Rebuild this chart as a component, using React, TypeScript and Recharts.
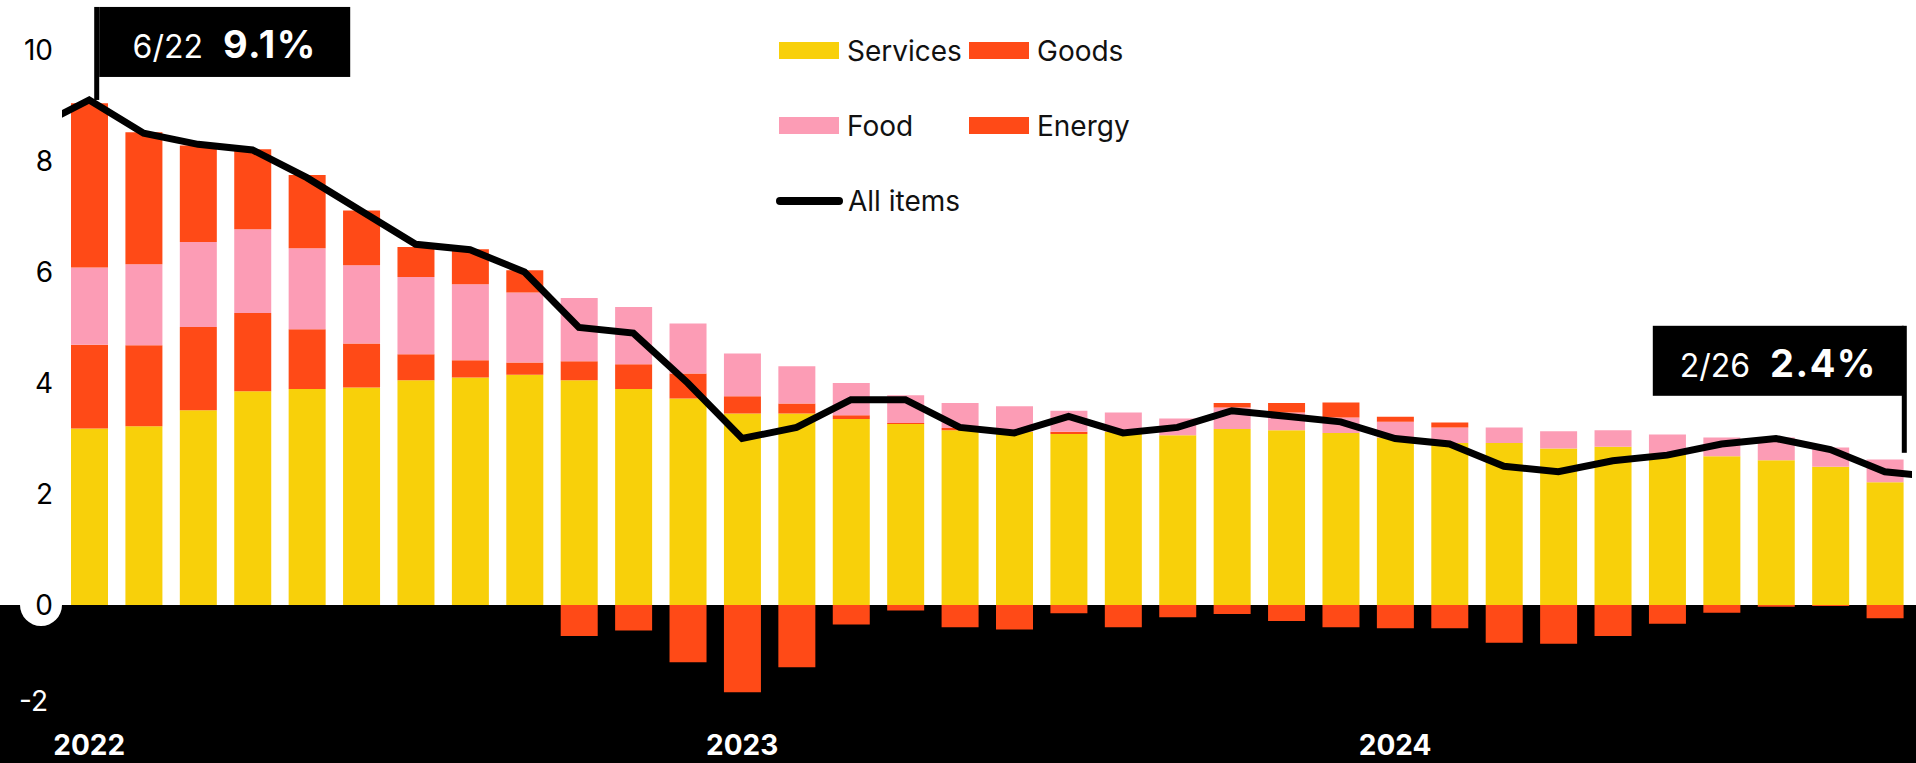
import React from 'react';
import { ComposedChart, Bar, Line, XAxis, YAxis, ReferenceArea, ReferenceDot } from 'recharts';

const W = 1916;
const H = 763;
const FONT = 'Inter, "Noto Sans", sans-serif';

// months of the all-items line; 5/22 and 4/25 only feed the clipped ends
const months = [
  '5/22', '6/22', '7/22', '8/22', '9/22', '10/22', '11/22', '12/22',
  '1/23', '2/23', '3/23', '4/23', '5/23', '6/23', '7/23', '8/23', '9/23', '10/23', '11/23', '12/23',
  '1/24', '2/24', '3/24', '4/24', '5/24', '6/24', '7/24', '8/24', '9/24', '10/24', '11/24', '12/24',
  '1/25', '2/25', '3/25', '4/25',
];

const allItems = [
  8.6, 9.1, 8.5, 8.3, 8.2, 7.7, 7.1, 6.5,
  6.4, 6.0, 5.0, 4.9, 4.0, 3.0, 3.2, 3.7, 3.7, 3.2, 3.1, 3.4,
  3.1, 3.2, 3.5, 3.4, 3.3, 3.0, 2.9, 2.5, 2.4, 2.6, 2.7, 2.9,
  3.0, 2.8, 2.4, 2.3,
];

// contributions (pp), one per bar: 6/22 .. 3/25
const services = [
  3.18, 3.22, 3.51, 3.85, 3.89, 3.92, 4.05, 4.10, 4.15, 4.05, 3.89, 3.72,
  3.45, 3.45, 3.35, 3.26, 3.15, 3.12, 3.08, 3.12, 3.06, 3.17, 3.15, 3.10,
  3.02, 2.92, 2.92, 2.82, 2.85, 2.73, 2.68, 2.61, 2.49, 2.21,
];
const goods = [
  1.51, 1.46, 1.50, 1.41, 1.08, 0.79, 0.47, 0.31, 0.22, 0.34, 0.45, 0.45,
  0.31, 0.18, 0.07, 0.02, 0.04, 0.0, 0.04, -0.40, -0.22, -0.16, -0.29, -0.40,
  -0.42, -0.42, -0.68, -0.70, -0.56, -0.34, -0.14, -0.03, -0.02, -0.24,
];
const food = [
  1.39, 1.46, 1.53, 1.51, 1.46, 1.41, 1.39, 1.37, 1.26, 1.14, 1.03, 0.90,
  0.77, 0.67, 0.58, 0.50, 0.45, 0.46, 0.38, 0.35, 0.30, 0.39, 0.32, 0.28,
  0.28, 0.28, 0.28, 0.31, 0.30, 0.34, 0.34, 0.41, 0.35, 0.41,
];
const energy = [
  2.96, 2.38, 1.74, 1.44, 1.32, 0.99, 0.54, 0.63, 0.40, -0.56, -0.46, -1.03,
  -1.57, -1.12, -0.35, -0.10, -0.40, -0.44, -0.15, 0.0, 0.0, 0.08, 0.17, 0.27,
  0.09, 0.09, 0.0, 0.0, 0.0, 0.0, 0.0, 0.0, 0.0, 0.0,
];

const yearTicks = [0, 12, 24];
const yearLabels = ['2022', '2023', '2024'];
const yTicks = [-2, 0, 2, 4, 6, 8, 10];

const flags = [
  { idx: 0, value: 9.1, date: '6/22', pct: '9.1%', side: 'left' },
  { idx: 33, value: 2.4, date: '2/26', pct: '2.4%', side: 'right' },
];

const COLORS = {
  services: '#F8D00A',
  goods: '#FF4A17',
  food: '#FC9CB5',
  energy: '#FF4A17',
};

const series = [
  { key: 'services', name: 'Services' },
  { key: 'goods', name: 'Goods' },
  { key: 'food', name: 'Food' },
  { key: 'energy', name: 'Energy' },
];

const data = months.map((month, k) => {
  const i = k - 1;
  const has = i >= 0 && i < services.length;
  return {
    idx: i,
    month,
    services: has ? services[i] : null,
    goods: has ? goods[i] : null,
    food: has ? food[i] : null,
    energy: has ? energy[i] : null,
    allItems: allItems[k],
  };
});

const ValueTick = (props: any) => {
  const { x, y, payload } = props;
  const v = payload.value;
  if (v === 0) {
    return (
      <g>
        <circle cx={x - 13} cy={y} r={21} fill="#fff" />
        <text x={x - 1} y={y} dy="0.36em" textAnchor="end" fontSize={28} fontFamily={FONT} fill="#000">0</text>
      </g>
    );
  }
  const neg = v < 0;
  return (
    <text x={neg ? x - 6 : x - 1} y={neg ? y - 15 : y} dy="0.36em" textAnchor="end" fontSize={28}
      fontFamily={FONT} fill={neg ? '#fff' : '#000'}>
      {v}
    </text>
  );
};

const YearTick = (props: any) => {
  const { x, y, payload } = props;
  const label = yearLabels[yearTicks.indexOf(payload.value)];
  return (
    <text x={x} y={y} dy={31} textAnchor="middle" fontSize={28} fontWeight={700} fontFamily={FONT} fill="#fff">
      {label}
    </text>
  );
};

const Flag = (props: any) => {
  const { cx, cy, date, pct, side } = props;
  const bw = 251;
  const bh = 70;
  let stickX, boxX, boxY, stickEnd;
  if (side === 'left') {
    stickX = cx + 5;
    boxX = cx + 10;
    boxY = cy - 93;
    stickEnd = cy;
  } else {
    stickX = cx + 17;
    boxX = cx + 19 - bw;
    boxY = cy - 146;
    stickEnd = cy - 19;
  }
  return (
    <g>
      <rect x={stickX} y={boxY} width={5} height={stickEnd - boxY} fill="#000" />
      <rect x={boxX} y={boxY} width={bw} height={bh} fill="#000" />
      <text x={boxX + bw / 2} y={boxY + 51} textAnchor="middle" fill="#fff" fontFamily={FONT}>
        <tspan fontSize={32}>{date}</tspan>
        <tspan dx={20} fontSize={38} fontWeight={700} letterSpacing={1.5}>{pct}</tspan>
      </text>
    </g>
  );
};

const LegendBlock = () => {
  const cell = (s: { key: string; name: string }) => (
    <div key={s.key} style={{ display: 'flex', alignItems: 'center', height: 75 }}>
      <div style={{ width: 60, height: 17, background: (COLORS as any)[s.key], marginRight: 8 }} />
      <span>{s.name}</span>
    </div>
  );
  return (
    <div style={{ position: 'absolute', left: 779, top: 13, fontFamily: FONT, fontSize: 28, color: '#111', lineHeight: 1 }}>
      <div style={{ display: 'grid', gridTemplateColumns: '190px 190px' }}>
        {series.map(cell)}
      </div>
      <div style={{ display: 'flex', alignItems: 'center', height: 75, marginLeft: -3 }}>
        <svg width={67} height={10} style={{ marginRight: 5 }}>
          <line x1={4} y1={5} x2={63} y2={5} stroke="#000" strokeWidth={8} strokeLinecap="round" />
        </svg>
        <span>All items</span>
      </div>
    </div>
  );
};

export default function App() {
  return (
    <div style={{ position: 'relative', width: W, height: H, background: '#fff' }}>
      <style>{'body{margin:0}'}</style>
      <ComposedChart
        width={W}
        height={H}
        data={data}
        stackOffset="sign"
        barSize={37}
        margin={{ top: 50, right: 4, bottom: 0, left: 0 }}
      >
        <ReferenceArea
          y1={0}
          y2={-2}
          shape={(p: any) => <rect x={0} y={p.y} width={W} height={H - p.y} fill="#000" />}
        />
        <XAxis
          type="number"
          dataKey="idx"
          domain={[-0.5, 33.5]}
          allowDataOverflow
          ticks={yearTicks}
          interval={0}
          axisLine={false}
          tickLine={false}
          height={47}
          tick={<YearTick />}
        />
        <YAxis
          type="number"
          domain={[-2, 10]}
          ticks={yTicks}
          interval={0}
          axisLine={false}
          tickLine={false}
          width={62}
          tick={<ValueTick />}
        />
        {series.map((s) => (
          <Bar
            key={s.key}
            dataKey={s.key}
            name={s.name}
            stackId="cpi"
            fill={(COLORS as any)[s.key]}
            isAnimationActive={false}
          />
        ))}
        <Line
          type="linear"
          dataKey="allItems"
          name="All items"
          stroke="#000"
          strokeWidth={7}
          dot={false}
          activeDot={false}
          isAnimationActive={false}
        />
        {flags.map((f) => (
          <ReferenceDot
            key={f.date}
            x={f.idx}
            y={f.value}
            r={0}
            shape={(p: any) => <Flag {...p} date={f.date} pct={f.pct} side={f.side} />}
          />
        ))}
      </ComposedChart>
      <LegendBlock />
    </div>
  );
}
